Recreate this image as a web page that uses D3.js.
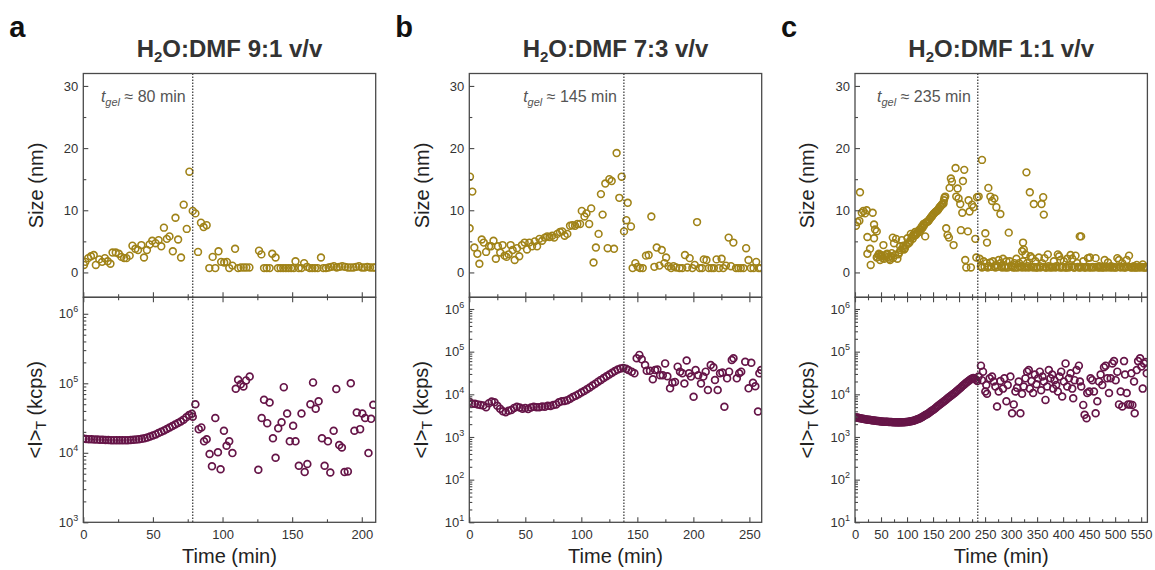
<!DOCTYPE html>
<html><head><meta charset="utf-8">
<script src="https://cdn.jsdelivr.net/npm/d3@7"></script>
<style>
body{margin:0;background:#fff}
svg{display:block}
text{font-family:Arial,"Liberation Sans",sans-serif}
</style>
</head><body>
<svg id="chart" width="1155" height="570"></svg>
<script>
// ---------------- DATA ----------------
const panelLetters = ["a","b","c"];
const ratios = ["9:1","7:3","1:1"];
const gelLabels = [80,145,235];      // t_gel value written in annotation (min)
const gelLines = [78.6,138,236];     // position of dotted line (min)
const xMaxes = [210,261,562];
const xMajorA = [0,50,100,150,200];
const xMajorB = [0,50,100,150,200,250];
const xMajorC = [0,50,100,150,200,250,300,350,400,450,500,550];
const sizeTicks = [0,10,20,30];
const logTicksA = [1e3,1e4,1e5,1e6];
const logTicksBC = [1e1,1e2,1e3,1e4,1e5,1e6];

// Panel a: size (nm) vs time (min)
const sizeA = [[0.5,1.2],[1.5,1.7],[3.5,2.3],[5.5,2.6],[7.5,2.8],[9,1.2],[11.5,2.1],[13.5,1.7],[15.5,2.3],[17.5,1.8],[19.5,1.4],[21,3.2],[23.3,3.2],[25.5,3.0],[27.4,2.5],[29.3,2.3],[31,2.3],[33.3,2.7],[35.3,4.3],[37.4,3.8],[39.3,3.6],[41.7,4.4],[43.6,2.4],[45.7,3.6],[47.6,4.5],[49.5,5.1],[51.9,4.7],[54.1,5.2],[56,4.2],[57.9,7.2],[60,5.4],[61.9,5.8],[64.3,3.4],[66.2,8.8],[68.1,5.3],[70.2,2.4],[72.1,10.9],[74.3,7.0],[76.2,16.2],[78.6,9.9],[80.5,9.5],[82.4,3.3],[84.5,8.0],[86.4,7.3],[88.6,7.6],[90.5,0.7],[92.9,2.5],[94.8,0.7],[97.1,3.4],[99,1.7],[101.2,1.6],[103.1,1.7],[104.8,0.7],[107.1,1.1],[109,3.8],[111.2,0.7],[113.1,0.8],[115.2,0.8],[117.1,0.8],[119.3,0.8],[126.2,3.5],[127.9,2.9],[129.8,0.7],[131.7,0.7],[133.8,0.7],[135.7,3.0],[138.1,2.4],[139.8,0.7],[141.7,0.7],[143.6,0.7],[145.5,0.7],[147.4,0.7],[149.3,0.7],[151.2,0.7],[152.4,1.8],[154.8,0.7],[156.7,0.7],[158.6,1.5],[160.7,0.9],[162.6,0.7],[164.5,0.7],[166.4,0.7],[168.3,0.7],[170.7,2.4],[172.4,0.7],[174.3,0.7],[176.2,0.8],[178.1,0.9],[180,1.0],[182,0.8],[184,0.9],[186,1.0],[188,0.9],[190,0.8],[192,0.8],[194,0.8],[196,0.9],[198,1.0],[200,0.8],[202,0.8],[204,0.9],[206,0.8],[208,0.8],[209.5,0.8]];

// Panel a: <I>_T (kcps) vs time (min)
const intA = [[0,16000],[2,15800],[4,15600],[6,15600],[8,15500],[10,15500],[12,15400],[14,15400],[16,15300],[18,15300],[20,15200],[22,15200],[24,15200],[26,15100],[28,15100],[30,15100],[32,15200],[34,15300],[36,15400],[38,15500],[40,15700],[42,15900],[44,16200],[46,16600],[48,17100],[50,17700],[52,18400],[54,19200],[56,20000],[58,21000],[60,22000],[62,23100],[64,24300],[66,25500],[68,26800],[70,28200],[72,30000],[74,32500],[76,35000],[78,36500],
[78.6,33000],[80.5,50000],[82.9,21900],[84.8,23200],[86.7,14600],[88.6,15700],[90.7,9600],[92.4,6400],[94.8,31600],[96.7,10200],[98.6,5800],[101,20800],[102.9,12600],[104.8,14600],[107.1,9900],[109.5,83400],[111.2,112000],[113.1,97000],[115,90000],[116.9,110000],[119.5,125000],[125.7,5700],[128.1,31600],[129.8,58000],[132.1,26700],[133.8,53000],[136.2,16200],[138.1,8500],[140,22600],[142.4,27500],[144,88000],[146.4,36700],[148.3,14600],[150.7,24500],[152.4,14600],[154.8,6500],[156.7,36700],[159,5300],[160.9,6900],[163.1,50000],[165,103000],[166.9,43000],[169,55000],[171.4,16200],[173.3,6500],[175.7,14600],[177.4,5200],[179.8,20800],[181.7,82600],[183.8,12900],[185.7,11900],[187.6,5300],[190,5400],[192.1,100000],[194.7,20800],[196.4,38000],[198.8,21900],[200.4,36700],[202.4,31600],[204.8,9900],[206.7,30800],[208.3,49000]];

// Panel b
const sizeB = [[0.6,15.4],[2.7,13.0],[0.3,7.1],[4.5,4.0],[7.2,3.0],[9,1.4],[11.1,5.3],[12.9,4.8],[15,3.3],[17.7,4.2],[19.5,4.2],[21.6,5.1],[23.7,2.2],[25.5,4.2],[27.6,3.2],[29.7,4.4],[31.5,2.7],[33.3,2.5],[35.1,2.9],[36.9,4.4],[38.7,3.6],[40.5,2.0],[42.6,3.9],[44.6,2.6],[47,4.4],[49.4,4.8],[51.5,3.7],[53.6,4.8],[56,4.2],[58.4,5.0],[60.5,4.2],[62.6,5.4],[65,5.1],[67.4,5.6],[69.5,5.8],[71.6,5.7],[74,5.9],[75.8,5.6],[78.5,6.2],[80.9,6.5],[83,6.6],[85.1,5.9],[87.5,6.2],[89.9,7.5],[92,7.6],[94.4,7.5],[96.5,7.8],[98.9,7.8],[100.4,9.9],[102.8,9.0],[104.6,9.5],[107,7.8],[108.8,10.3],[110.9,1.6],[113,4.0],[115.4,6.2],[117.5,12.6],[119,9.3],[121.4,14.3],[123.5,3.9],[125,15.0],[127.1,14.7],[129.2,3.8],[131.5,19.2],[133.9,12.0],[136,15.4],[138.1,6.6],[140.2,8.4],[141.4,11.2],[144.3,7.4],[145.8,0.7],[148.2,1.5],[150.3,0.9],[152.4,0.7],[154.8,0.7],[157.7,2.7],[160.1,2.8],[162.5,9.0],[165.2,0.9],[167.3,4.0],[169.7,1.1],[171.8,3.6],[174.2,1.5],[175.7,2.4],[177.8,1.0],[180.2,0.7],[182.3,1.0],[184.7,0.8],[187.7,0.7],[190.1,0.7],[192.5,2.8],[194.6,0.8],[196.7,2.3],[199.1,0.7],[201.2,1.2],[203.3,8.1],[205.7,0.7],[207.8,0.7],[209.3,2.1],[211.7,2.0],[213.8,0.7],[216.2,0.7],[218.3,0.7],[220.7,2.1],[222.8,0.7],[225.2,2.2],[226.7,0.7],[229.1,1.1],[231.5,5.6],[233.6,1.0],[235.7,4.8],[238.1,0.7],[240.2,0.7],[242.3,0.7],[244.7,0.7],[247.1,3.9],[249.2,2.0],[251.3,0.7],[253.7,0.7],[256.1,1.7],[258.2,0.7],[260,0.7]];

const intB = [[0,6700],[2.5,6000],[5,6000],[7.5,5800],[10,5600],[12.5,5500],[15,5000],[17.5,6200],[20,6800],[22.5,6500],[25,5400],[27.5,4600],[30,4000],[32.5,3800],[35,4100],[37.5,4300],[40,4800],[42.5,5100],[45,4900],[47.5,4600],[50,4800],[52.5,4500],[55,4900],[57.5,5100],[60,5000],[62.5,5000],[65,5200],[67.5,5100],[70,5400],[72.5,5300],[75,5600],[77.5,5800],[80,6500],[82.5,6900],[85,7000],[87.5,7300],[90,7900],[92.5,8600],[95,9300],[97.5,10100],[100,11000],[102.5,12000],[105,13200],[107.5,14500],[110,16000],[112.5,17800],[115,19800],[117.5,21800],[120,24000],[122.5,26500],[125,29000],[127.5,32000],[130,35000],[132.5,38000],[135,40500],[137.5,41500],[140,40000],
[142,37000],[145,34000],[147.4,31000],[149.4,70000],[151.8,84000],[153.9,66000],[156.9,48700],[158.4,35800],[161.3,35800],[163.8,22500],[165.8,37000],[167.9,38000],[170.3,27900],[172.7,27900],[174.8,53000],[176.8,26500],[179.2,13800],[181.3,18600],[183.6,19500],[186,44500],[188.1,34000],[190.2,31000],[192,18000],[194,62000],[196.1,31000],[197.9,26000],[200.2,8800],[202,37000],[204.4,27900],[206.8,18000],[208.9,26000],[211,34000],[213,12600],[215.5,48700],[217.9,43000],[219.3,21700],[221.7,12600],[223.8,31000],[225.9,32500],[227.7,5100],[230.1,23700],[231.9,34000],[234.3,64000],[235.8,70000],[238.8,23700],[240.9,31000],[242.7,34000],[246.3,58000],[249.3,13800],[251.7,55000],[253.2,18600],[255.3,15500],[257.7,3950],[258.9,31000],[260.5,37000]];

// Panel c
const sizeC = [[1.9,7.5],[4.5,8.1],[8.4,8.3],[9.6,12.9],[13,9.6],[16,9.9],[19.3,9.5],[22.5,10.0],[23.8,5.7],[23.8,3.0],[28.9,3.8],[30.2,1.2],[34,9.6],[36.6,7.7],[36.6,5.5],[38.5,6.9],[41.8,6.6],[41.8,2.4],[43,2.5],[45,2.8],[46,3.0],[48.2,2.0],[50,2.8],[51.4,2.6],[53,2.3],[54.6,4.4],[56,2.2],[58,2.6],[60,2.9],[62,3.0],[64,2.5],[66,2.2],[67.4,2.0],[69,2.6],[70.6,3.1],[72.6,5.6],[73,2.3],[75,4.7],[77,2.8],[79,5.4],[81.5,2.2],[83.5,2.9],[85,3.2],[86.7,4.2],[88,3.6],[89.9,5.2],[91.9,3.9],[93,4.3],[94.4,3.7],[96,3.9],[98.3,4.4],[100.8,5.5],[102,4.6],[104.7,4.8],[106,5.1],[107.3,6.2],[109.2,5.7],[111,5.4],[112.4,6.1],[114,5.9],[115.6,6.5],[117,6.0],[118.8,6.3],[120,6.4],[122,6.7],[124,6.5],[125.2,7.0],[127,6.9],[128.4,7.4],[130,7.2],[131.7,7.8],[133,7.6],[134.9,5.8],[136,8.0],[138.1,8.1],[140,8.2],[141.3,8.3],[143,8.5],[144.5,8.7],[146,8.9],[147.7,9.0],[149,9.2],[150.9,9.4],[152,9.5],[154.1,9.7],[156,9.8],[157.3,9.9],[159,10.0],[160.6,10.2],[162,10.4],[163.8,10.6],[165,10.7],[167,10.9],[168,11.0],[170.2,11.1],[171,11.6],[172,12.0],[173.4,12.2],[175.3,7.1],[177.9,6.0],[180.5,5.6],[181.8,13.6],[184.3,15.1],[186.3,14.6],[189.5,4.4],[193.3,16.8],[194.6,12.2],[197.2,13.5],[199.1,11.9],[202.3,11.0],[203.6,6.8],[206.2,9.6],[207.5,14.7],[210,16.5],[211.9,2.0],[213.9,0.8],[217,6.6],[218.3,11.6],[220.2,9.8],[222.8,0.8],[224.8,10.9],[228,10.5],[231.2,5.4],[233.2,2.4],[234.5,12.1],[237.7,12.2],
[244.1,18.1],[250.5,6.3],[253.7,4.8],[256.3,13.6],[260.2,12.2],[263.4,11.5],[267.9,11.9],[271.7,10.5],[279.4,9.4],[295.5,6.4],[321.2,3.4],[323,4.8],[324.4,3.7],[327.6,2.9],[329.5,16.1],[336,12.9],[340.5,2.3],[343.7,11.0],[358.5,11.0],[361.7,12.1],[362.9,9.3],[432,5.8],[434.6,5.8],
[239.6,2.2],[244.1,0.8],[247.3,1.8],[252.4,1.5],[257,1.0],[260.1,1.6],[265.3,1.8],[267.8,1.0],[271.7,1.2],[276.2,2.0],[279.4,1.5],[282.6,0.8],[284.5,2.2],[287.8,1.0],[291,1.8],[293.5,0.8],[297.4,1.8],[300,1.1],[303.8,0.8],[306.4,1.5],[310.2,2.2],[312.8,0.8],[315.4,1.5],[319.2,1.0],[323.1,1.8],[327.6,0.8],[330.8,1.5],[334,0.8],[337.2,2.6],[342.3,0.8],[346.8,1.8],[350.1,0.8],[353.3,2.4],[356.5,0.8],[359.7,1.5],[364.2,2.3],[368,0.8],[370.6,2.9],[374.5,0.8],[379,0.8],[382.2,1.8],[385.4,0.8],[389.9,2.9],[392.4,2.6],[395,2.0],[398.2,0.8],[401.4,1.8],[404.7,0.8],[407.9,2.2],[411.1,0.8],[414.3,2.8],[417.5,2.2],[420.7,0.8],[423.9,2.7],[427.1,1.5],[430.3,0.8],[433.6,0.8],[438.7,1.8],[443.2,0.8],[447.7,2.3],[451.5,2.4],[454.1,0.8],[459.3,0.8],[462.5,2.3],[467,0.8],[470.8,0.8],[475.3,0.8],[479.8,2.0],[483.7,0.8],[486.2,1.6],[490.1,0.8],[494.6,0.8],[499.1,0.8],[504.2,2.3],[507.4,2.0],[510.6,0.8],[513.8,1.5],[517.1,0.8],[522.2,2.0],[526.7,2.7],[529.9,0.8],[533.1,0.8],[537.6,0.8],[541.5,1.2],[544.1,0.8],[549.2,0.8],[553,1.3],[556.9,0.8],[560.7,0.8],
[242,1.0],[249,0.9],[255,0.8],[262,0.9],[270,0.8],[274,0.9],[281,1.0],[289,0.8],[295,0.9],[302,1.0],[308,0.8],[317,0.9],[321,0.8],[325,0.9],[332,1.0],[339,0.9],[344,0.9],[348,0.8],[355,1.0],[362,0.9],[366,0.8],[372,1.0],[377,0.9],[381,0.9],[387,1.0],[394,0.8],[400,0.9],[406,0.8],[410,1.0],[416,0.9],[422,0.8],[428,0.9],[436,0.9],[441,0.8],[446,0.9],[450,0.8],[457,0.9],[465,0.9],[469,1.0],[473,0.9],[478,0.8],[482,0.9],[488,0.9],[492,1.0],[497,0.9],[502,0.8],[509,0.9],[515,0.9],[520,0.8],[525,0.9],[532,0.9],[536,1.0],[540,0.8],[547,0.9],[551,0.9],[555,0.8],[559,0.9]];

const intC = [[0,2900],[2.5,2850],[5,2850],[7.5,2800],[10,2750],[12.5,2700],[15,2680],[17.5,2650],[20,2600],[22.5,2580],[25,2550],[27.5,2520],[30,2500],[32.5,2470],[35,2440],[37.5,2420],[40,2400],[42.5,2380],[45,2360],[47.5,2340],[50,2320],[52.5,2300],[55,2290],[57.5,2280],[60,2270],[62.5,2260],[65,2250],[67.5,2240],[70,2230],[72.5,2220],[75,2210],[77.5,2205],[80,2200],[82.5,2200],[85,2200],[87.5,2200],[90,2205],[92.5,2210],[95,2220],[97.5,2230],[100,2250],[102.5,2270],[105,2300],[107.5,2330],[110,2370],[112.5,2410],[115,2460],[117.5,2520],[120,2590],[122.5,2670],[125,2760],[127.5,2860],[130,2980],[132.5,3110],[135,3260],[137.5,3380],[140,3500],[142.5,3700],[145,3900],[147.5,4100],[150,4300],[152.5,4550],[155,4800],[157.5,5100],[160,5400],[162.5,5700],[165,6000],[167.5,6350],[170,6700],[172.5,7100],[175,7500],[177.5,7950],[180,8400],[182.5,8900],[185,9400],[187.5,9950],[190,10500],[192.5,11100],[195,11800],[197.5,12500],[200,13300],[202.5,14100],[205,15000],[207.5,16000],[210,17000],[212.5,18100],[215,19200],[217.5,20300],[220,21500],[222.5,22500],[225,23500],[227.5,24000],[230,23500],[232.5,22000],[235,20500],
[237.6,26000],[242.1,47000],[244,21500],[246,34000],[250.5,11600],[252.4,16600],[253.7,10300],[258.8,23700],[263.4,26000],[266.6,20000],[269.8,15300],[273,5200],[276.2,11600],[279.4,20500],[284.5,13600],[287.1,23700],[291,6900],[293.5,16600],[298.7,26000],[301.9,3600],[305.1,5800],[308.3,11600],[311.5,14200],[314.7,20000],[317.9,3600],[321.1,10300],[324.4,15300],[327.6,23700],[330.8,34000],[334,37000],[335.9,13600],[339.1,20500],[342.3,10700],[345.6,29000],[348.8,17200],[352,23700],[355.2,34000],[357.8,12500],[360.3,26000],[362.9,20000],[366.1,7400],[369.3,15300],[372.5,37000],[375.7,23700],[379,29000],[380.9,13600],[383.5,21500],[386.7,16600],[389.9,11600],[393.1,26000],[396.3,34000],[398.2,8900],[401.4,20000],[404.7,53000],[407.9,15300],[411.1,23700],[414.3,31000],[417.5,13600],[419.4,8100],[422,21500],[425.8,37000],[430.3,47000],[432.3,20000],[434.8,15300],[438.7,5650],[441.3,3300],[445.1,2740],[446.4,10700],[450.3,11600],[452.8,23700],[456,21500],[459.3,11600],[462.5,3600],[465.7,6900],[468.9,20000],[472.1,29000],[475.3,16600],[478.5,43000],[481.7,47000],[484.9,23700],[488.2,10700],[491.4,23700],[494.6,53000],[497.8,60000],[501,21500],[504.2,34000],[507.4,5800],[510.6,11600],[513.8,5200],[517.1,60000],[519,29000],[522.2,10700],[524.8,5800],[528.6,5800],[531.2,31000],[533.1,5650],[536.3,20000],[537.6,3600],[541.5,37000],[544.1,60000],[547.9,70000],[550.5,45000],[553,13600],[555.6,53000],[558.8,57000],[560.7,31000]];

const sizeSets = [sizeA,sizeB,sizeC];
const intSets = [intA,intB,intC];
const xMajors = [xMajorA,xMajorB,xMajorC];
const logTickSets = [logTicksA,logTicksBC,logTicksBC];

// ---------------- LAYOUT / STYLE ----------------
const L = {x0s:[83.3,469.3,855], plotW:292.4, top:73.5, mid:297.3, bot:522.3};
const logTop = [1.726e6,1.88e6,1.88e6];
const gold = "#a08318", purple = "#661548", frame = "#4a4a4a", txt = "#333";

const svg = d3.select("#chart");
const defs = svg.append("defs");

function minorLogTicks(dom){
  const out=[];
  const lo=Math.floor(Math.log10(dom[0])), hi=Math.ceil(Math.log10(dom[1]));
  for(let e=lo;e<=hi;e++) for(let k=2;k<=9;k++){const v=k*Math.pow(10,e); if(v>dom[0]&&v<dom[1]) out.push(v);}
  return out;
}

panelLetters.forEach((letter,i)=>{
  const x0=L.x0s[i], x1=x0+L.plotW, cx=(x0+x1)/2;
  const x=d3.scaleLinear().domain([0,xMaxes[i]]).range([x0,x1]);
  const yS=d3.scaleLinear().domain([-4,32]).range([L.mid,L.top]);
  const logDom=[logTickSets[i][0],logTop[i]];
  const yI=d3.scaleLog().domain(logDom).range([L.bot,L.mid]);
  const g=svg.append("g");

  defs.append("clipPath").attr("id","clipT"+i).append("rect").attr("x",x0).attr("y",L.top).attr("width",L.plotW).attr("height",L.mid-L.top);
  defs.append("clipPath").attr("id","clipB"+i).append("rect").attr("x",x0).attr("y",L.mid).attr("width",L.plotW).attr("height",L.bot-L.mid);

  // panel letter & title
  g.append("text").attr("x",x0-74).attr("y",37).attr("font-size",29).attr("font-weight","bold").attr("fill","#111").text(letter);
  const title=g.append("text").attr("x",cx).attr("y",57).attr("text-anchor","middle").attr("font-size",24).attr("font-weight","bold").attr("fill",txt);
  title.append("tspan").text("H");
  title.append("tspan").attr("font-size",15).attr("dy",5).text("2");
  title.append("tspan").attr("dy",-5).text("O:DMF "+ratios[i]+" v/v");

  // data points
  g.append("g").attr("clip-path","url(#clipT"+i+")").selectAll("circle").data(sizeSets[i]).join("circle")
    .attr("cx",d=>x(d[0])).attr("cy",d=>yS(d[1])).attr("r",3.4)
    .attr("fill","none").attr("stroke",gold).attr("stroke-width",1.6);
  g.append("g").attr("clip-path","url(#clipB"+i+")").selectAll("circle").data(intSets[i]).join("circle")
    .attr("cx",d=>x(d[0])).attr("cy",d=>yI(d[1])).attr("r",3.4)
    .attr("fill","none").attr("stroke",purple).attr("stroke-width",1.7);

  // gel line
  g.append("line").attr("x1",x(gelLines[i])).attr("x2",x(gelLines[i])).attr("y1",L.top).attr("y2",L.bot)
    .attr("stroke","#333").attr("stroke-width",1.2).attr("stroke-dasharray","1.5,1.5");

  // annotation
  const ann=g.append("text").attr("x",x(gelLines[i])-7).attr("y",102).attr("text-anchor","end").attr("font-size",16).attr("fill","#555");
  ann.append("tspan").attr("font-style","italic").text("t");
  ann.append("tspan").attr("font-style","italic").attr("font-size",11).attr("dy",4).text("gel");
  ann.append("tspan").attr("dy",-4).text(" \u2248 "+gelLabels[i]+" min");

  // frames
  g.append("rect").attr("x",x0).attr("y",L.top).attr("width",L.plotW).attr("height",L.mid-L.top).attr("fill","none").attr("stroke",frame).attr("stroke-width",1.3);
  g.append("rect").attr("x",x0).attr("y",L.mid).attr("width",L.plotW).attr("height",L.bot-L.mid).attr("fill","none").attr("stroke",frame).attr("stroke-width",1.3);

  const styleAxis = sel => { sel.select(".domain").remove(); sel.selectAll("line").attr("stroke",frame).attr("stroke-width",1.1); sel.selectAll("text").attr("fill",txt).attr("font-size",13).attr("font-family","Arial,'Liberation Sans',sans-serif"); };

  const xMinor = d3.range(25, xMaxes[i], 50);
  g.append("g").attr("transform",`translate(${x0},0)`).call(d3.axisLeft(yS).tickValues(sizeTicks).tickSizeInner(-5).tickSizeOuter(0).tickPadding(5)).call(styleAxis);
  g.append("g").attr("transform",`translate(${x0},0)`).call(d3.axisLeft(yS).tickValues([5,15,25]).tickFormat("").tickSizeInner(-3).tickSizeOuter(0)).call(styleAxis);
  const la=g.append("g").attr("transform",`translate(${x0},0)`).call(d3.axisLeft(yI).tickValues(logTickSets[i]).tickSizeInner(-5).tickSizeOuter(0).tickPadding(5)).call(styleAxis);
  la.selectAll(".tick text").each(function(d){
    const t=d3.select(this); t.text(null);
    t.append("tspan").text("10");
    t.append("tspan").attr("dy",-6).attr("font-size",9).text(Math.round(Math.log10(d)));
  });
  g.append("g").attr("transform",`translate(${x0},0)`).call(d3.axisLeft(yI).tickValues(minorLogTicks(logDom)).tickFormat("").tickSizeInner(-3).tickSizeOuter(0)).call(styleAxis);

  [[d3.axisBottom,L.mid],[d3.axisTop,L.mid],[d3.axisBottom,L.bot]].forEach(([ax,yy],k)=>{
    g.append("g").attr("transform",`translate(0,${yy})`).call(ax(x).tickValues(xMajors[i]).tickSizeInner(-5).tickSizeOuter(0).tickPadding(7).tickFormat(k===2?d3.format("d"):"")).call(styleAxis);
    g.append("g").attr("transform",`translate(0,${yy})`).call(ax(x).tickValues(xMinor).tickSizeInner(-3).tickSizeOuter(0).tickFormat("")).call(styleAxis);
  });

  // axis titles
  g.append("text").attr("transform",`translate(${x0-46},${(L.top+L.mid)/2}) rotate(-90)`).attr("text-anchor","middle").attr("dominant-baseline","middle").attr("font-size",20).attr("fill","#222").text("Size (nm)");
  const yt=g.append("text").attr("transform",`translate(${x0-46},${(L.mid+L.bot)/2}) rotate(-90)`).attr("text-anchor","middle").attr("dominant-baseline","middle").attr("font-size",20).attr("fill","#222");
  yt.append("tspan").text("<I>");
  yt.append("tspan").attr("font-size",14).attr("dy",5).text("T");
  yt.append("tspan").attr("dy",-5).text(" (kcps)");
  g.append("text").attr("x",cx).attr("y",563).attr("text-anchor","middle").attr("font-size",20).attr("fill","#222").text("Time (min)");
});
</script>
</body></html>
